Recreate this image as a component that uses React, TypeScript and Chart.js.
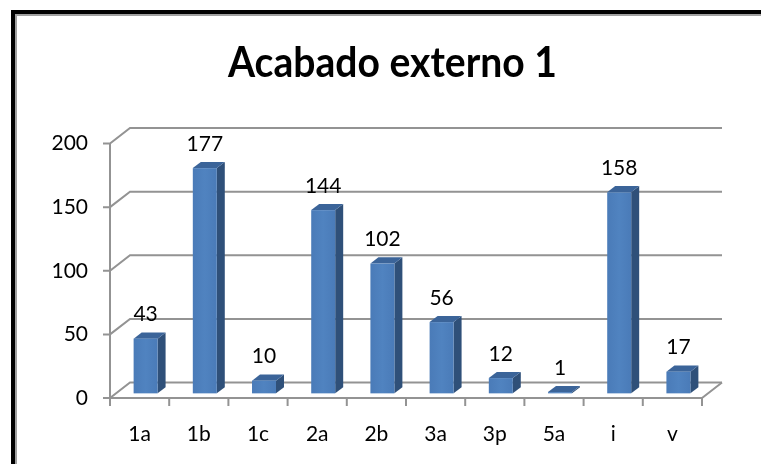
import React, { useEffect, useRef } from "react";
import { Chart, registerables } from "chart.js";

Chart.register(...registerables);

const categories = ["1a", "1b", "1c", "2a", "2b", "3a", "3p", "5a", "i", "v"];
const values = [43, 177, 10, 144, 102, 56, 12, 1, 158, 17];
const yTicks = [0, 50, 100, 150, 200];
const titleText = "Acabado externo 1";

const W = 761;
const H = 464;
const FONT = "Lato, 'Open Sans', sans-serif";
const DX = 20;
const DY = -15.5;
const F0 = 0.3;
const F1 = 0.7;
const GRID = "#939393";

const fake3d = {
  id: "fake3d",
  beforeDatasetsDraw(chart: any) {
    const ctx = chart.ctx;
    const xs = chart.scales.x;
    const ys = chart.scales.y;
    const L = xs.left;
    const R = xs.right;
    const y0 = ys.getPixelForValue(0);
    const yTop = ys.getPixelForValue(ys.max);
    ctx.save();
    ctx.strokeStyle = GRID;
    ctx.lineWidth = 2;
    ctx.lineJoin = "miter";
    yTicks.forEach((v) => {
      const py = ys.getPixelForValue(v);
      ctx.beginPath();
      ctx.moveTo(L - 7, py);
      ctx.lineTo(L, py);
      ctx.lineTo(L + DX, py + DY);
      ctx.lineTo(R + DX, py + DY);
      ctx.stroke();
    });
    ctx.beginPath();
    ctx.moveTo(L, y0);
    ctx.lineTo(L, yTop);
    ctx.stroke();
    ctx.beginPath();
    ctx.moveTo(L, y0);
    ctx.lineTo(R, y0);
    ctx.lineTo(R + DX, y0 + DY);
    ctx.stroke();
    for (let i = 0; i <= categories.length; i++) {
      const px = xs.getPixelForValue(i - 0.5);
      ctx.beginPath();
      ctx.moveTo(px, y0);
      ctx.lineTo(px, y0 + 8);
      ctx.stroke();
    }
    ctx.restore();
  },
  afterDatasetsDraw(chart: any) {
    const ctx = chart.ctx;
    const meta = chart.getDatasetMeta(0);
    const ox0 = DX * F0, oy0 = DY * F0;
    const dxd = DX * (F1 - F0), dyd = DY * (F1 - F0);
    ctx.save();
    meta.data.forEach((bar: any, i: number) => {
      const w = bar.width;
      const x1 = bar.x - w / 2 + ox0;
      const x2 = bar.x + w / 2 + ox0;
      const top = bar.y + oy0;
      const base = bar.base + oy0;
      ctx.fillStyle = "#2f5079";
      ctx.beginPath();
      ctx.moveTo(x2, base);
      ctx.lineTo(x2, top);
      ctx.lineTo(x2 + dxd, top + dyd);
      ctx.lineTo(x2 + dxd, base + dyd);
      ctx.closePath();
      ctx.fill();
      ctx.fillStyle = "#3b6499";
      ctx.beginPath();
      ctx.moveTo(x1, top);
      ctx.lineTo(x2, top);
      ctx.lineTo(x2 + dxd, top + dyd);
      ctx.lineTo(x1 + dxd, top + dyd);
      ctx.closePath();
      ctx.fill();
      const g = ctx.createLinearGradient(x1, 0, x2, 0);
      g.addColorStop(0, "#4a7bb8");
      g.addColorStop(0.5, "#5083c0");
      g.addColorStop(1, "#4a7bb8");
      ctx.fillStyle = g;
      ctx.fillRect(x1, top, x2 - x1, base - top);
      ctx.fillStyle = "#000";
      ctx.font = `21px ${FONT}`;
      ctx.textAlign = "center";
      ctx.textBaseline = "middle";
      ctx.fillText(String(values[i]), (x1 + x2) / 2, top - 24);
    });
    ctx.restore();
  },
  afterDraw(chart: any) {
    const ctx = chart.ctx;
    ctx.save();
    const size = 42;
    ctx.font = `bold ${size}px ${FONT}`;
    const m = ctx.measureText(titleText).width;
    const target = 329;
    const sx = Math.min(1, target / m);
    ctx.translate(392.5, 77);
    ctx.scale(sx, 1);
    ctx.fillStyle = "#000";
    ctx.textAlign = "center";
    ctx.textBaseline = "alphabetic";
    ctx.fillText(titleText, 0, 0);
    ctx.restore();
  },
};

export default function App() {
  const ref = useRef<HTMLCanvasElement | null>(null);
  useEffect(() => {
    if (!ref.current) return;
    const chart = new Chart(ref.current, {
      type: "bar",
      data: {
        labels: categories,
        datasets: [
          {
            data: values,
            backgroundColor: "rgba(0,0,0,0)",
            borderWidth: 0,
            barPercentage: 0.405,
            categoryPercentage: 1,
          },
        ],
      },
      options: {
        responsive: false,
        animation: false,
        devicePixelRatio: 1,
        layout: { padding: { left: 0, right: W - 702, top: 143.5, bottom: 0 } },
        plugins: {
          legend: { display: false },
          title: { display: false },
          tooltip: { enabled: false },
        },
        scales: {
          x: {
            type: "category",
            offset: true,
            grid: { display: false },
            border: { display: false },
            ticks: {
              font: { family: FONT, size: 21 },
              color: "#000",
              padding: 16,
              maxRotation: 0,
              autoSkip: false,
            },
            afterFit: (s: any) => {
              s.height = H - 398;
            },
          },
          y: {
            min: 0,
            max: 200,
            grid: { display: false },
            border: { display: false },
            ticks: {
              stepSize: 50,
              font: { family: FONT, size: 21 },
              color: "#000",
              padding: 14,
            },
            afterFit: (s: any) => {
              s.width = 110;
            },
          },
        },
      },
      plugins: [fake3d],
    } as any);
    return () => chart.destroy();
  }, []);

  return (
    <div
      style={{
        position: "fixed",
        left: 0,
        top: 0,
        width: W,
        height: H,
        overflow: "hidden",
        background: "#fff",
      }}
    >
      <div
        style={{
          position: "absolute",
          left: 11,
          top: 10,
          width: 820,
          height: 520,
          borderLeft: "4px solid #000",
          borderTop: "4px solid #000",
          boxSizing: "border-box",
        }}
      >
        <div
          style={{
            position: "absolute",
            left: 0,
            top: 0,
            right: 0,
            bottom: 0,
            borderLeft: "2px solid #a0a0a0",
            borderTop: "2px solid #a0a0a0",
          }}
        />
      </div>
      <canvas
        ref={ref}
        width={W}
        height={H}
        style={{ position: "absolute", left: 0, top: 0, display: "block" }}
      />
    </div>
  );
}
